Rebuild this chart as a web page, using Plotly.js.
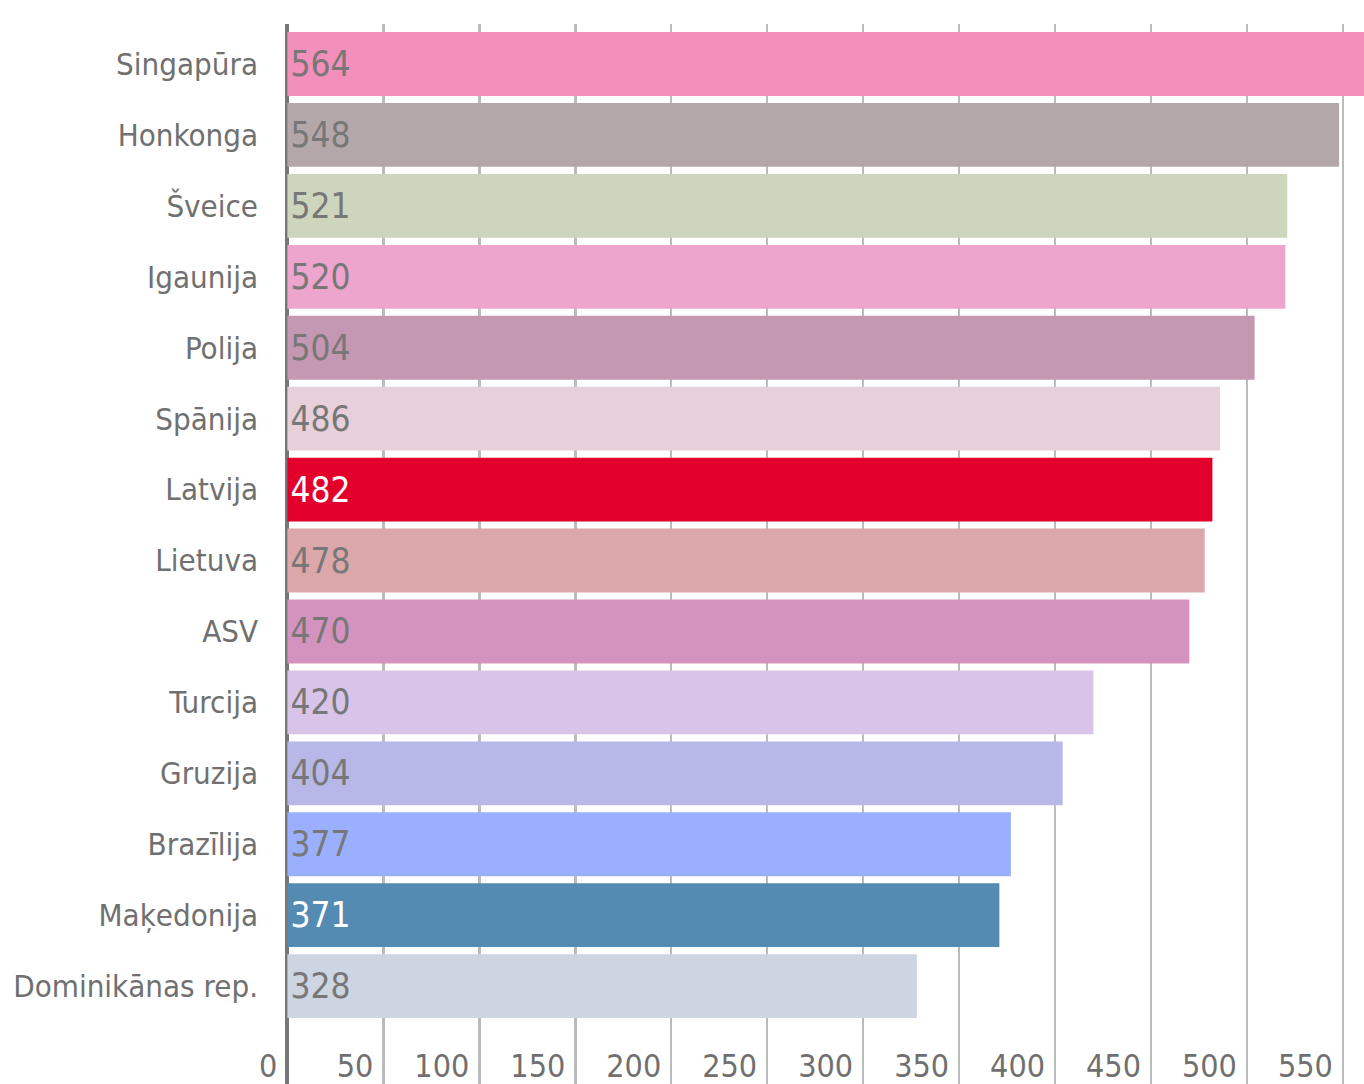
<!DOCTYPE html>
<html>
<head>
<meta charset="utf-8">
<script src="https://cdn.plot.ly/plotly-3.0.1.min.js"></script>
<style>
html,body{margin:0;padding:0;background:#fff;}
#chart{width:1364px;height:1084px;}
</style>
</head>
<body>
<div id="chart"></div>
<script>
const countries = ["Singapūra","Honkonga","Šveice","Igaunija","Polija","Spānija","Latvija","Lietuva","ASV","Turcija","Gruzija","Brazīlija","Maķedonija","Dominikānas rep."];
const scores = [564,548,521,520,504,486,482,478,470,420,404,377,371,328];
const barColors = ["#F28FBA","#B4A7AA","#CDD5BD","#EDA5CE","#C497B3","#E8D0DA","#E3002B","#DBA7AA","#D493BF","#D8C4E8","#B7B8E8","#9AB0FF","#548BB3","#CDD5E3"];
const labelColors = ["#777","#777","#777","#777","#777","#777","#fff","#777","#777","#777","#777","#777","#fff","#777"];
const xTicks = [0,50,100,150,200,250,300,350,400,450,500,550];

const FONT = '"DejaVu Sans Condensed","DejaVu Sans",sans-serif';

const trace = {
  type: 'bar',
  orientation: 'h',
  y: countries,
  x: scores,
  marker: {color: barColors, line: {width: 0}},
  text: scores.map(String),
  textposition: 'inside',
  insidetextanchor: 'start',
  textangle: 0,
  constraintext: 'none',
  textfont: {family: FONT, size: 35, color: labelColors},
  hoverinfo: 'none'
};

const layout = {
  width: 1364, height: 1084,
  margin: {l: 249, r: 0, t: 24, b: 0, pad: 0},
  paper_bgcolor: '#fff', plot_bgcolor: '#fff',
  showlegend: false,
  bargap: 0.1,
  xaxis: {
    range: [-20, 561],
    tickmode: 'array', tickvals: xTicks, ticktext: xTicks.map(String),
    showgrid: true, gridcolor: '#bbbbbb', gridwidth: 2.5,
    zeroline: true, zerolinecolor: '#777777', zerolinewidth: 4,
    showline: false, ticks: '',
    ticklabelposition: 'inside left',
    ticklabelshift: -10,
    ticklabelstandoff: -5,
    tickfont: {family: FONT, size: 32, color: '#707070'},
    fixedrange: true
  },
  yaxis: {
    type: 'category',
    categoryorder: 'array', categoryarray: countries,
    range: [14.38, -0.564],
    showgrid: false, zeroline: false, showline: false, ticks: '',
    ticklabelstandoff: -10,
    tickfont: {family: FONT, size: 31, color: '#707070'},
    fixedrange: true
  }
};

Plotly.newPlot('chart', [trace], layout, {displayModeBar: false, staticPlot: true});
</script>
</body>
</html>
